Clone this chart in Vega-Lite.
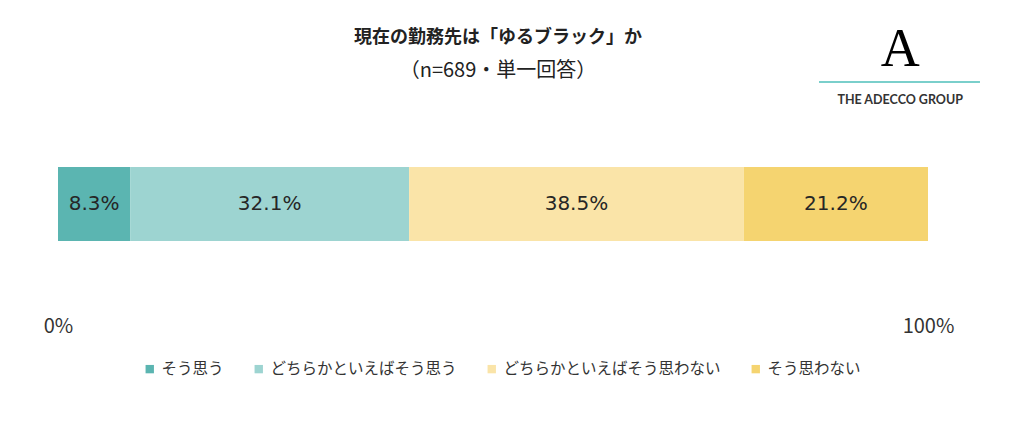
{
  "$schema": "https://vega.github.io/schema/vega-lite/v6.json",
  "width": 870,
  "height": 74,
  "autosize": {"type": "none"},
  "padding": {"left": 58, "top": 167, "right": 86, "bottom": 181},
  "background": "white",
  "title": {
    "text": "現在の勤務先は「ゆるブラック」か",
    "subtitle": "（n=689・単一回答）",
    "anchor": "middle",
    "frame": "group",
    "offset": -58,
    "dx": 5,
    "font": "Noto Sans CJK JP",
    "fontSize": 18,
    "fontWeight": "bold",
    "color": "#222222",
    "subtitleFont": "Noto Sans CJK JP",
    "subtitleFontSize": 20,
    "subtitleColor": "#222222",
    "subtitlePadding": 14
  },
  "config": {"view": {"stroke": null}},
  "layer": [
    {
      "data": {
        "values": [
          {"cat": "そう思う", "pct": 8.3, "order": 1},
          {"cat": "どちらかといえばそう思う", "pct": 32.1, "order": 2},
          {"cat": "どちらかといえばそう思わない", "pct": 38.5, "order": 3},
          {"cat": "そう思わない", "pct": 21.2, "order": 4}
        ]
      },
      "transform": [
        {"stack": "pct", "groupby": [], "sort": [{"field": "order"}], "as": ["s0", "s1"]},
        {"calculate": "(datum.s0 + datum.s1) / 2", "as": "mid"},
        {"calculate": "format(datum.pct, '.1f') + '%'", "as": "label"}
      ],
      "layer": [
        {
          "mark": {"type": "bar"},
          "encoding": {
            "x": {
              "field": "s0", "type": "quantitative",
              "scale": {"domain": [0, 100.1], "nice": false, "zero": false},
              "axis": {
                "values": [0, 100.1],
                "labelExpr": "datum.value == 0 ? '0%' : '100%'",
                "domain": false, "ticks": false, "tickSize": 0, "grid": false,
                "labelPadding": 75,
                "labelFont": "Noto Sans CJK JP",
                "labelFontSize": 20,
                "labelColor": "#333333",
                "labelBaseline": "top",
                "labelAlign": "center",
                "labelFlush": false,
                "title": null
              }
            },
            "x2": {"field": "s1"},
            "y": {"datum": 0, "type": "quantitative", "scale": {"domain": [0, 1], "nice": false, "zero": false}, "axis": null},
            "y2": {"datum": 1},
            "color": {
              "field": "cat", "type": "nominal",
              "scale": {
                "domain": ["そう思う", "どちらかといえばそう思う", "どちらかといえばそう思わない", "そう思わない"],
                "range": ["#5BB5B1", "#9DD4D1", "#FAE4A8", "#F5D470"]
              },
              "legend": {
                "title": null,
                "orient": "none",
                "direction": "horizontal",
                "legendX": 84,
                "legendY": 194,
                "symbolType": "square",
                "symbolSize": 70,
                "symbolStrokeWidth": 0,
                "labelFont": "Noto Sans CJK JP",
                "labelFontSize": 15.5,
                "labelColor": "#333333",
                "labelOffset": 4,
                "columnPadding": 27,
                "labelLimit": 400
              }
            }
          }
        },
        {
          "mark": {"type": "text", "font": "DejaVu Sans", "fontSize": 20, "color": "#262626", "align": "center", "baseline": "middle"},
          "encoding": {
            "x": {"field": "mid", "type": "quantitative", "scale": {"domain": [0, 100.1], "nice": false, "zero": false}},
            "y": {"datum": 0.5, "type": "quantitative", "scale": {"domain": [0, 1], "nice": false, "zero": false}},
            "text": {"field": "label"}
          }
        }
      ]
    },
    {
      "data": {"values": [{"logo": "A"}]},
      "mark": {"type": "text", "font": "Liberation Serif", "fontSize": 54, "color": "#000000", "align": "center", "baseline": "middle"},
      "encoding": {
        "x": {"datum": 96.9, "type": "quantitative", "scale": {"domain": [0, 100.1], "nice": false, "zero": false}},
        "y": {"datum": 2.58, "type": "quantitative", "scale": {"domain": [0, 1], "nice": false, "zero": false}},
        "text": {"field": "logo"}
      }
    },
    {
      "data": {"values": [{"logo": "line"}]},
      "mark": {"type": "rule", "color": "#7ACFCB", "strokeWidth": 2},
      "encoding": {
        "x": {"datum": 87.56, "type": "quantitative", "scale": {"domain": [0, 100.1], "nice": false, "zero": false}},
        "x2": {"datum": 106.08},
        "y": {"datum": 2.149, "type": "quantitative", "scale": {"domain": [0, 1], "nice": false, "zero": false}}
      }
    },
    {
      "data": {"values": [{"name": "THE ADECCO GROUP"}]},
      "mark": {"type": "text", "font": "Lato", "fontSize": 12.5, "fontWeight": "bold", "color": "#333333", "align": "center", "baseline": "middle"},
      "encoding": {
        "x": {"datum": 96.9, "type": "quantitative", "scale": {"domain": [0, 100.1], "nice": false, "zero": false}},
        "y": {"datum": 1.905, "type": "quantitative", "scale": {"domain": [0, 1], "nice": false, "zero": false}},
        "text": {"field": "name"}
      }
    }
  ]
}
